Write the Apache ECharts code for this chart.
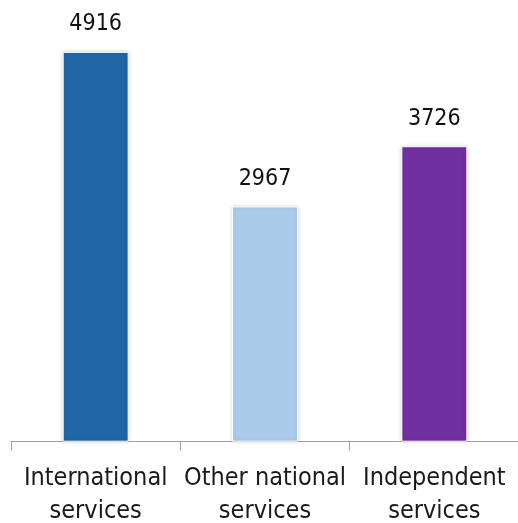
<!DOCTYPE html>
<html><head><meta charset="utf-8">
<script src="https://cdn.jsdelivr.net/npm/echarts@6/dist/echarts.min.js"></script>
<style>html,body{margin:0;padding:0;background:#fff}#c{width:518px;height:523px}</style>
</head><body><div id="c"></div>
<script>
const categories = ["International\nservices", "Other national\nservices", "Independent\nservices"];
const values = [4916, 2967, 3726];
const colors = ["#2166A5", "#AACCEA", "#7030A0"];
const FONT = "'DejaVu Sans Condensed', 'DejaVu Sans', sans-serif";
const chart = echarts.init(document.getElementById('c'), null, {renderer: 'canvas'});
chart.setOption({
  animation: false,
  grid: {left: 11, right: -1, top: 45.2, bottom: 81.3, containLabel: false, outerBoundsMode: 'none'},
  xAxis: {
    type: 'category', data: categories,
    axisLine: {lineStyle: {color: '#a0a0a0', width: 1}},
    axisTick: {show: true, length: 9, lineStyle: {color: '#a0a0a0'}},
    axisLabel: {color: '#1a1a1a', fontFamily: FONT, fontSize: 25, lineHeight: 33, margin: 20, interval: 0}
  },
  yAxis: {type: 'value', min: 0, max: 5000, show: false, splitLine: {show: false}},
  series: [{
    type: 'bar', barWidth: 66,
    data: values.map((v, i) => ({value: v, itemStyle: {color: colors[i]}})),
    itemStyle: {borderColor: '#fff', borderWidth: 1, shadowBlur: 4, shadowColor: 'rgba(0,0,0,0.18)'},
    label: {show: true, position: 'top', distance: 16, color: '#111', fontFamily: FONT, fontSize: 23}
  }]
});
</script></body></html>
